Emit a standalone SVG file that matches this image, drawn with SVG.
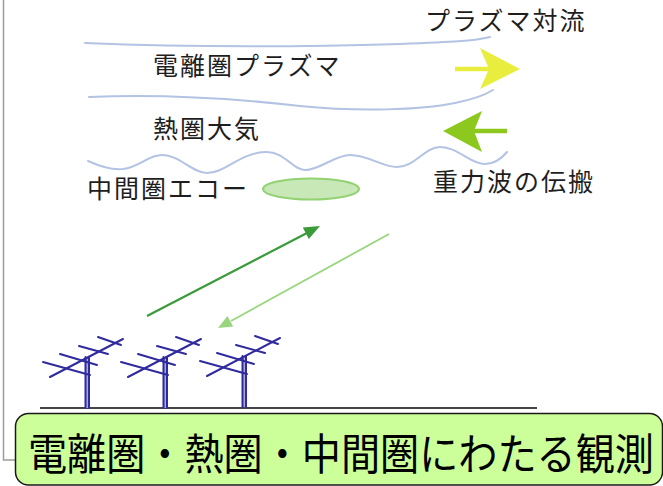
<svg xmlns="http://www.w3.org/2000/svg" xmlns:xlink="http://www.w3.org/1999/xlink" width="663" height="486" viewBox="0 0 663 486">
  <style>
    .lbl { font-family: "Noto Sans CJK JP", "Noto Sans", sans-serif; font-size: 25px; fill: #1e1e1e; letter-spacing: 2px; }
    .layer { fill: none; stroke: #b3c3e3; stroke-width: 2; stroke-linecap: round; }
    .ant { stroke: #2f2b9e; stroke-width: 2; stroke-linecap: round; fill: none; }
    .title { font-family: "Noto Sans CJK JP", "Noto Sans", sans-serif; font-size: 39px; fill: #000; }
  </style>
  <defs>
    <!-- Yagi antenna on a mast -->
    <g id="antennaShape">
      <rect x="85.5" y="357" width="3.5" height="51" fill="#a9a7dc"/>
      <line class="ant" x1="85.5" y1="357" x2="85.5" y2="408"/>
      <line class="ant" x1="89" y1="357" x2="89" y2="408"/>
      <line class="ant" x1="50" y1="377" x2="123" y2="339"/>
      <line class="ant" x1="43" y1="362" x2="90" y2="375"/>
      <line class="ant" x1="60" y1="354" x2="97" y2="365"/>
      <line class="ant" x1="79" y1="346" x2="108" y2="354"/>
      <line class="ant" x1="98" y1="337" x2="121" y2="345"/>
    </g>
  </defs>

  <rect x="0" y="0" width="663" height="486" fill="#ffffff"/>

  <!-- outer frame -->
  <path d="M3.5,0 L3.5,460 L20,460" fill="none" stroke="#9c9c9c" stroke-width="1.5"/>

  <!-- layer boundaries -->
  <g id="layers">
    <path class="layer" d="M85,43 C180,47 300,47 400,44 C450,42 475,41 490,37"/>
    <path class="layer" d="M89,97 C160,94 230,98 300,106 C360,112 420,110 455,103 C475,99 485,95 493,90"/>
    <path class="layer" d="M88,161 C100,166 110,170 123,169 C140,167 148,155 162,155 C180,155 192,173 207,173 C225,173 240,153 265,152 C285,151 292,170 305,170 C320,170 335,155 350,155 C368,155 382,167 397,167 C415,167 425,147 440,147 C458,147 470,164 485,164 C495,164 502,158 507,152"/>
  </g>

  <!-- labels -->
  <g id="label-convection"><text class="lbl" x="425" y="30">プラズマ対流</text></g>
  <g id="label-ionosphere"><text class="lbl" x="153" y="75">電離圏プラズマ</text></g>
  <g id="label-thermosphere"><text class="lbl" x="153" y="138">熱圏大気</text></g>
  <g id="label-gravitywave"><text class="lbl" x="433" y="191">重力波の伝搬</text></g>
  <g id="label-echo"><text class="lbl" x="87" y="198">中間圏エコー</text></g>

  <!-- flow arrows -->
  <g id="arrow-plasma">
    <line x1="455" y1="69" x2="490" y2="69" stroke="#e9ee3e" stroke-width="4.5"/>
    <path d="M480,48 L520,69 L480,89 L489,69 Z" fill="#e9ee3e"/>
  </g>
  <g id="arrow-neutral">
    <line x1="507" y1="131" x2="470" y2="131" stroke="#8cc81e" stroke-width="4.5"/>
    <path d="M482,111 L443,131 L482,152 L474,131 Z" fill="#8cc81e"/>
  </g>

  <!-- mesospheric echo region -->
  <g id="echo">
    <ellipse cx="311" cy="189" rx="48" ry="10.5" fill="#c8e8b8" stroke="#92d272" stroke-width="2"/>
  </g>

  <!-- radar beams -->
  <g id="connectors">
    <line x1="147" y1="316" x2="307" y2="233" stroke="#3a9b38" stroke-width="2.2"/>
    <path d="M320,226 L308.8,239.1 L302.8,227.5 Z" fill="#3a9b38"/>
    <line x1="389" y1="234" x2="231" y2="321" stroke="#98d67e" stroke-width="1.8"/>
    <path d="M218,328 L233.2,326.6 L227.4,316 Z" fill="#98d67e"/>
  </g>

  <!-- ground and antennas -->
  <line x1="40" y1="408" x2="537" y2="408" stroke="#444" stroke-width="2"/>
  <g id="antenna-1"><use xlink:href="#antennaShape"/></g>
  <g id="antenna-2"><use xlink:href="#antennaShape" transform="translate(78,0)"/></g>
  <g id="antenna-3"><use xlink:href="#antennaShape" transform="translate(157,-1)"/></g>

  <!-- caption box -->
  <g id="caption">
    <rect x="15.5" y="413.5" width="647" height="71.5" rx="13" fill="#ccff99" stroke="#1a1a1a" stroke-width="1.5"/>
    <text class="title" transform="translate(28,470) scale(1,1.1)" x="0" y="0" textLength="626" lengthAdjust="spacingAndGlyphs">電離圏・熱圏・中間圏にわたる観測</text>
  </g>
</svg>
